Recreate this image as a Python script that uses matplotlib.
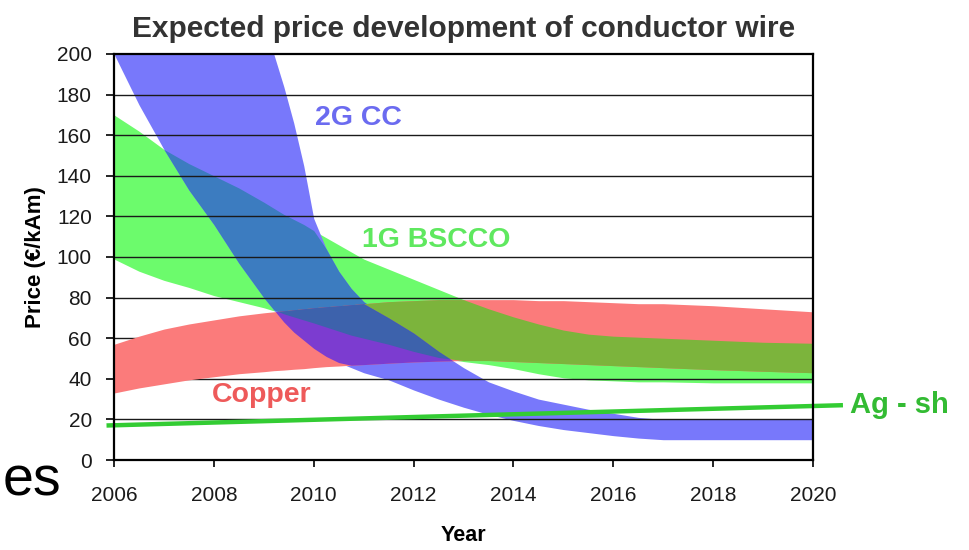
import matplotlib
matplotlib.use("Agg")
import matplotlib.pyplot as plt
import numpy as np

plt.rcParams['font.family'] = ['Liberation Sans', 'DejaVu Sans']

# common year grid for all bands
years = [2006, 2006.5, 2007, 2007.5, 2008, 2008.5, 2009, 2009.2, 2009.4, 2009.6,
         2009.8, 2010, 2010.25, 2010.5, 2010.75, 2011, 2011.5, 2012, 2012.5, 2013,
         2013.5, 2014, 2014.5, 2015, 2015.5, 2016, 2016.5, 2017, 2018, 2019, 2020]

# 2G CC band
cc_hi = [200, 200, 200, 200, 200, 200, 200, 200, 184, 166,
         145, 119, 104, 93, 84.5, 78, 70, 62.5, 53.5, 45.5,
         38.5, 34, 30, 27.5, 25, 23, 21, 20, 20, 20, 20]
cc_lo = [200, 175, 153, 133, 116, 97, 80, 74, 68, 63,
         59, 55, 51, 48, 45.5, 43, 39.5, 34.5, 30, 26,
         22.5, 19.5, 17, 15, 13.5, 12, 10.8, 10, 10, 10, 10]

# 1G BSCCO band
bs_hi = [170, 162, 153, 146, 140, 134, 127, 124, 121, 118.5,
         116, 113, 109.5, 106, 102.5, 99, 94, 89, 84, 79,
         74.5, 70.5, 67, 64, 62, 61, 60.5, 60, 59, 58, 57.5]
bs_lo = [99, 93, 88.5, 85, 81, 78, 75, 73.5, 72, 70.5,
         69, 67.5, 65.5, 63.5, 61.5, 60, 57, 53.5, 50.5, 48.5,
         47, 45, 42.5, 40.5, 39.5, 39, 38.5, 38.5, 38, 38, 38]

# Copper band
cu_hi = [57, 61, 64.5, 67, 69, 71, 72.5, 73, 73.5, 74,
         74.5, 75, 75.5, 76, 76.5, 77, 78, 78.5, 79, 79,
         79, 79, 78.5, 78.5, 78, 77.5, 77, 77, 76, 74.5, 73]
cu_lo = [33, 35.5, 37.5, 39.5, 41, 42.5, 43.5, 44, 44.3, 44.7,
         45, 45.5, 46, 46.3, 46.7, 47, 47.7, 48.3, 48.7, 49,
         49, 48.5, 48, 47.5, 47, 46.5, 46, 45.5, 44.5, 43.7, 43]

# Ag sheathed line
ag_x = [2005.85, 2020.6]
ag_y = [17, 27]

x = np.array(years)
cc_hi, cc_lo = np.array(cc_hi), np.array(cc_lo)
bs_hi, bs_lo = np.array(bs_hi), np.array(bs_lo)
cu_hi, cu_lo = np.array(cu_hi), np.array(cu_lo)

fig = plt.figure(figsize=(9.69, 5.5), dpi=100)
ax = fig.add_axes([114/969, 1-460/550, (813-114)/969, (460-54)/550])


def band(lo, hi, color, z):
    ax.fill_between(x, lo, hi, where=lo < hi, interpolate=True,
                    color=color, lw=0, zorder=z)


# single bands, then the overlaps
band(bs_lo, bs_hi, '#6cfb6c', 1)
band(cc_lo, cc_hi, '#7878fb', 1)
band(np.maximum(cc_lo, bs_lo), np.minimum(cc_hi, bs_hi), '#3c7cc0', 1.1)
band(cu_lo, cu_hi, '#fb7b7b', 2)
band(np.maximum(cu_lo, bs_lo), np.minimum(cu_hi, bs_hi), '#7cb43c', 2.1)
band(np.maximum(cu_lo, cc_lo), np.minimum(cu_hi, cc_hi), '#7c3cd0', 2.1)
band(np.maximum.reduce([cu_lo, cc_lo, bs_lo]),
     np.minimum.reduce([cu_hi, cc_hi, bs_hi]), '#3d62ac', 2.2)

# grid lines (under copper, over the others)
for g in range(20, 200, 20):
    ax.axhline(g, color='#1a1a1a', lw=1.0, zorder=1.5)

ax.plot(ag_x, ag_y, color='#33cc33', lw=3.2, zorder=4, clip_on=False,
        solid_capstyle='butt')

ax.set_xlim(2006, 2020)
ax.set_ylim(0, 200)
ax.set_xticks(range(2006, 2021, 2))
ax.set_yticks(range(0, 201, 20))
for s in ax.spines.values():
    s.set_linewidth(1.6)
    s.set_color('black')
    s.set_zorder(5)
ax.tick_params(axis='y', length=6, width=1.2, pad=10, labelsize=15)
ax.tick_params(axis='x', length=5, width=1.2, pad=14, labelsize=15)
for lab in ax.get_xticklabels() + ax.get_yticklabels():
    lab.set_color('#1a1a1a')

ax.set_title('Expected price development of conductor wire', fontsize=21.5,
             fontweight='bold', color='#333333', pad=12)
ax.set_ylabel('Price (€/kAm)', fontsize=16, fontweight='bold', labelpad=8)
ax.set_xlabel('Year', fontsize=15.5, fontweight='bold', labelpad=14)

ax.text(2010.03, 168.5, '2G CC', color='#6b6bf0', fontsize=20.5,
        fontweight='bold', ha='left', va='center', zorder=6)
ax.text(2010.97, 108.4, '1G BSCCO', color='#5fe85f', fontsize=20.5,
        fontweight='bold', ha='left', va='center', zorder=6)
ax.text(2007.96, 32, 'Copper', color='#ee5a5a', fontsize=20.5,
        fontweight='bold', ha='left', va='center', zorder=6)
ax.text(2020.74, 27, 'Ag - sh', color='#33bb33', fontsize=21,
        fontweight='bold', ha='left', va='center', zorder=6, clip_on=False)

fig.text(3/969, 1-495/550, 'es', fontsize=40, ha='left', va='baseline',
         color='black')

fig.savefig('out.png', dpi=100)
